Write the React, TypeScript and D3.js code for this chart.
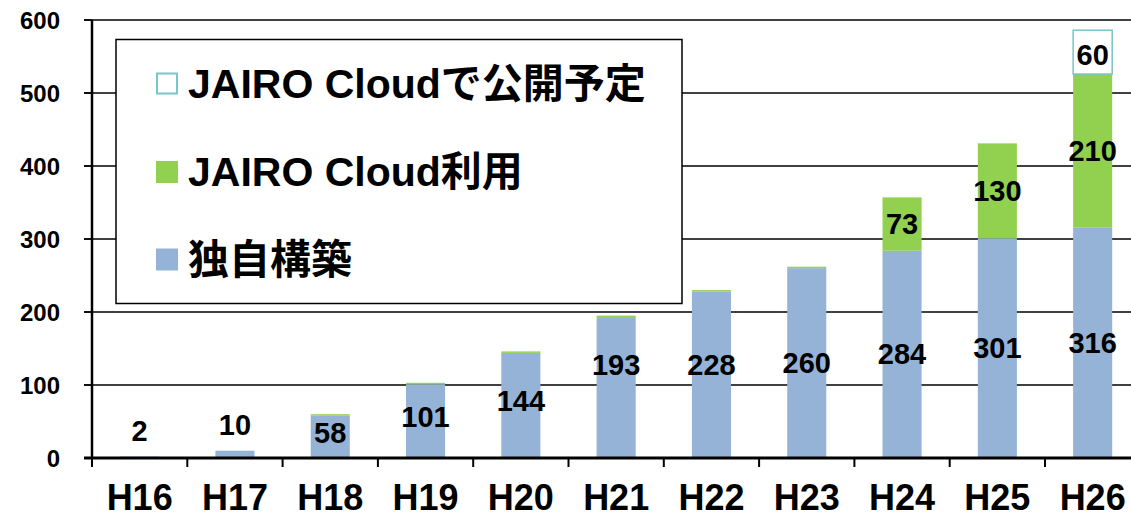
import React, { useEffect, useRef } from "react";
import * as d3 from "d3";

const categories = ["H16", "H17", "H18", "H19", "H20", "H21", "H22", "H23", "H24", "H25", "H26"];
const selfBuilt = [2, 10, 58, 101, 144, 193, 228, 260, 284, 301, 316];
const cloudUsed = [0, 0, 2, 2, 2, 2, 2, 2, 73, 130, 210];
const cloudPlanned = [0, 0, 0, 0, 0, 0, 0, 0, 0, 0, 60];
const yTicks = [0, 100, 200, 300, 400, 500, 600];

const seriesNames = ["独自構築", "JAIRO Cloud利用", "JAIRO Cloudで公開予定"];
const FONT = "'Liberation Sans', Arial, 'Noto Sans CJK JP', sans-serif";

const App = () => {
  const svgRef = useRef<SVGSVGElement>(null);

  useEffect(() => {
    const W = 1131;
    const H = 518;
    const left = 92;
    const zeroY = 458;
    const topY = 20;

    const svg = d3.select(svgRef.current).attr("width", W).attr("height", H);
    svg.selectAll("*").remove();

    const rows = categories.map((c, i) => ({
      name: c,
      [seriesNames[0]]: selfBuilt[i],
      [seriesNames[1]]: cloudUsed[i],
      [seriesNames[2]]: cloudPlanned[i],
    }));

    const x = d3.scaleBand().domain(categories).range([left, left + 95.3 * categories.length]).padding(0);
    const y = d3.scaleLinear().domain([0, 600]).range([zeroY, topY]);
    const barW = x.bandwidth() * 0.41;
    const barX = (c: string) => (x(c) as number) + (x.bandwidth() - barW) / 2;
    const cx = (c: string) => (x(c) as number) + x.bandwidth() / 2;

    // gridlines
    svg
      .append("g")
      .selectAll("line")
      .data(yTicks.filter((t) => t > 0))
      .join("line")
      .attr("x1", left - 8)
      .attr("x2", W)
      .attr("y1", (d) => y(d))
      .attr("y2", (d) => y(d))
      .attr("stroke", "#000")
      .attr("stroke-width", 1.5);

    // y tick labels
    svg
      .append("g")
      .selectAll("text")
      .data(yTicks)
      .join("text")
      .attr("x", 60)
      .attr("y", (d) => y(d))
      .attr("text-anchor", "end")
      .attr("dominant-baseline", "central")
      .attr("font-family", FONT)
      .attr("font-weight", "bold")
      .attr("font-size", 24)
      .text((d) => d);

    const stack = d3.stack<any>().keys(seriesNames)(rows);
    const fills = ["#95B3D7", "#92D050", "#FFFFFF"];

    stack.forEach((layer, li) => {
      svg
        .append("g")
        .selectAll("rect")
        .data(layer.filter((d) => d[1] - d[0] > 0))
        .join("rect")
        .attr("x", (d: any) => barX(d.data.name))
        .attr("y", (d) => y(d[1]))
        .attr("width", barW)
        .attr("height", (d) => y(d[0]) - y(d[1]))
        .attr("fill", fills[li])
        .attr("stroke", li === 2 ? "#78C5CB" : "none")
        .attr("stroke-width", li === 2 ? 1.5 : 0);
    });

    // legend box
    const lg = svg.append("g");
    lg.append("rect")
      .attr("x", 116)
      .attr("y", 39.5)
      .attr("width", 566)
      .attr("height", 264)
      .attr("fill", "#fff")
      .attr("stroke", "#000")
      .attr("stroke-width", 1.5);
    const legendItems = [
      { name: seriesNames[2], fill: "#fff", stroke: "#78C5CB", cy: 83.5 },
      { name: seriesNames[1], fill: fills[1], stroke: "none", cy: 172 },
      { name: seriesNames[0], fill: fills[0], stroke: "none", cy: 259.5 },
    ];
    legendItems.forEach((it) => {
      lg.append("rect")
        .attr("x", it.stroke === "none" ? 156 : 157)
        .attr("y", it.stroke === "none" ? it.cy - 11 : it.cy - 10)
        .attr("width", it.stroke === "none" ? 22 : 20)
        .attr("height", it.stroke === "none" ? 22 : 20)
        .attr("fill", it.fill)
        .attr("stroke", it.stroke)
        .attr("stroke-width", 2);
      lg.append("text")
        .attr("x", 188)
        .attr("y", it.cy)
        .attr("dominant-baseline", "central")
        .attr("font-family", FONT)
        .attr("font-weight", "bold")
        .attr("font-size", 41)
        .text(it.name);
    });

    // axes lines
    svg
      .append("line")
      .attr("x1", left)
      .attr("x2", left)
      .attr("y1", topY)
      .attr("y2", zeroY)
      .attr("stroke", "#000")
      .attr("stroke-width", 2.5);
    svg
      .append("line")
      .attr("x1", left - 8)
      .attr("x2", W)
      .attr("y1", zeroY)
      .attr("y2", zeroY)
      .attr("stroke", "#000")
      .attr("stroke-width", 3);
    svg
      .append("g")
      .selectAll("line")
      .data(yTicks.slice(1))
      .join("line")
      .attr("x1", left - 8)
      .attr("x2", left)
      .attr("y1", (d) => y(d))
      .attr("y2", (d) => y(d))
      .attr("stroke", "#000")
      .attr("stroke-width", 1.5);
    svg
      .append("g")
      .selectAll("line")
      .data(categories)
      .join("line")
      .attr("x1", (c) => x(c) as number)
      .attr("x2", (c) => x(c) as number)
      .attr("y1", zeroY)
      .attr("y2", zeroY + 9)
      .attr("stroke", "#000")
      .attr("stroke-width", 2);

    // x labels
    svg
      .append("g")
      .selectAll("text")
      .data(categories)
      .join("text")
      .attr("x", (c) => cx(c))
      .attr("y", 510)
      .attr("text-anchor", "middle")
      .attr("font-family", FONT)
      .attr("font-weight", "bold")
      .attr("font-size", 36)
      .text((c) => c);

    // value labels
    const labels: { x: number; y: number; t: string }[] = [];
    categories.forEach((c, i) => {
      const s = selfBuilt[i];
      let ly: number;
      if (s < 20) ly = y(s) - 26;
      else if (s < 150) ly = y(s / 2) - 4;
      else ly = y(Math.max(s / 2, 127));
      labels.push({ x: cx(c), y: ly, t: String(s) });
      if (cloudUsed[i] >= 10) {
        labels.push({ x: cx(c), y: y(s + cloudUsed[i] / 2), t: String(cloudUsed[i]) });
      }
      if (cloudPlanned[i] > 0) {
        const base = s + cloudUsed[i];
        labels.push({ x: cx(c), y: y(base + cloudPlanned[i] / 2) + 3, t: String(cloudPlanned[i]) });
      }
    });
    svg
      .append("g")
      .selectAll("text")
      .data(labels)
      .join("text")
      .attr("x", (d) => d.x)
      .attr("y", (d) => d.y)
      .attr("text-anchor", "middle")
      .attr("dominant-baseline", "central")
      .attr("font-family", FONT)
      .attr("font-weight", "bold")
      .attr("font-size", 29)
      .text((d) => d.t);
  }, []);

  return <svg ref={svgRef} style={{ position: "absolute", left: 0, top: 0, display: "block" }} />;
};

export default App;
